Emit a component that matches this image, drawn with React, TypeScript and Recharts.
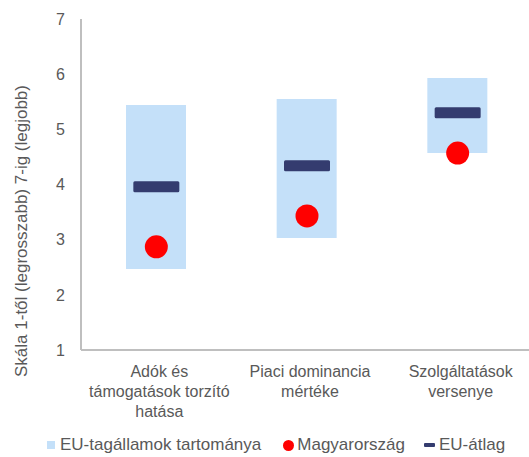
import {
  ComposedChart,
  Bar,
  Scatter,
  XAxis,
  YAxis,
  Legend,
} from "recharts";

const CATEGORIES = ["Adók és támogatások torzító hatása", "Piaci dominancia mértéke", "Szolgáltatások versenye"];
const CATEGORY_LINES = [
  ["Adók és", "támogatások torzító", "hatása"],
  ["Piaci dominancia", "mértéke"],
  ["Szolgáltatások", "versenye"],
];
const EU_MIN = [2.47, 3.03, 4.57];
const EU_MAX = [5.44, 5.55, 5.93];
const HUNGARY = [2.87, 3.43, 4.57];
const EU_AVG = [3.96, 4.34, 5.3];
const Y_TICKS = [1, 2, 3, 4, 5, 6, 7];

const FONT = "'Liberation Sans', Arial, sans-serif";
const TEXT = "#595959";
const RANGE_COLOR = "#C4E0F9";
const HU_COLOR = "#FF0000";
const AVG_COLOR = "#343C6F";
const AXIS_COLOR = "#BFBFBF";

const data = CATEGORIES.map((name, i) => ({
  name,
  range: [EU_MIN[i], EU_MAX[i]],
  hungary: HUNGARY[i],
  avg: EU_AVG[i],
}));

function CategoryTick({ x, y, payload }: any) {
  const lines = CATEGORY_LINES[payload.index] ?? [String(payload.value)];
  return (
    <text x={x + 3} y={y} textAnchor="middle" fill={TEXT} fontSize={16} fontFamily={FONT}>
      {lines.map((l, i) => (
        <tspan key={i} x={x + 3} dy={i === 0 ? 27 : 20}>
          {l}
        </tspan>
      ))}
    </text>
  );
}

function LegendContent() {
  return (
    <div
      style={{
        display: "flex",
        alignItems: "center",
        fontFamily: FONT,
        fontSize: 17,
        color: TEXT,
        paddingLeft: 47,
        height: 24,
        whiteSpace: "nowrap",
      }}
    >
      <span style={{ width: 8, height: 8, background: RANGE_COLOR, marginRight: 5 }} />
      <span style={{ marginRight: 22 }}>EU-tagállamok tartománya</span>
      <span
        style={{ width: 11, height: 11, borderRadius: 6, background: HU_COLOR, marginRight: 3 }}
      />
      <span style={{ marginRight: 19 }}>Magyarország</span>
      <span style={{ width: 11, height: 4, borderRadius: 1, background: AVG_COLOR, marginRight: 4 }} />
      <span>EU-átlag</span>
    </div>
  );
}

export default function App() {
  return (
    <div style={{ position: "absolute", left: 0, top: 0, background: "#fff" }}>
      <ComposedChart
        width={529}
        height={457}
        data={data}
        margin={{ top: 19, right: -4, left: 0, bottom: 0 }}
      >
        <XAxis
          dataKey="name"
          tick={<CategoryTick />}
          tickLine={false}
          tickSize={0}
          tickMargin={0}
          interval={0}
          height={83}
          axisLine={{ stroke: AXIS_COLOR, strokeWidth: 2 }}
        />
        <YAxis
          type="number"
          domain={[1, 7]}
          ticks={Y_TICKS}
          width={81}
          tickLine={false}
          tickSize={6}
          tickMargin={10}
          axisLine={{ stroke: AXIS_COLOR, strokeWidth: 2 }}
          tick={{ fill: TEXT, fontSize: 16, fontFamily: FONT }}
          label={{
            content: () => (
              <text
                transform="translate(21,231) rotate(-90)"
                textAnchor="middle"
                dominantBaseline="central"
                fill={TEXT}
                fontSize={17}
                fontFamily={FONT}
              >
                Skála 1-től (legrosszabb) 7-ig (legjobb)
              </text>
            ),
          }}
        />
        <Legend verticalAlign="bottom" height={24} content={<LegendContent />} />
        <Bar dataKey="range" fill={RANGE_COLOR} barSize={60} isAnimationActive={false} />
        <Scatter
          dataKey="avg"
          isAnimationActive={false}
          shape={(p: any) => (
            <rect x={p.cx - 23} y={p.cy - 5.5} width={46} height={11} rx={1.5} fill={AVG_COLOR} />
          )}
        />
        <Scatter
          dataKey="hungary"
          isAnimationActive={false}
          shape={(p: any) => <circle cx={p.cx} cy={p.cy} r={11.5} fill={HU_COLOR} />}
        />
      </ComposedChart>
    </div>
  );
}
